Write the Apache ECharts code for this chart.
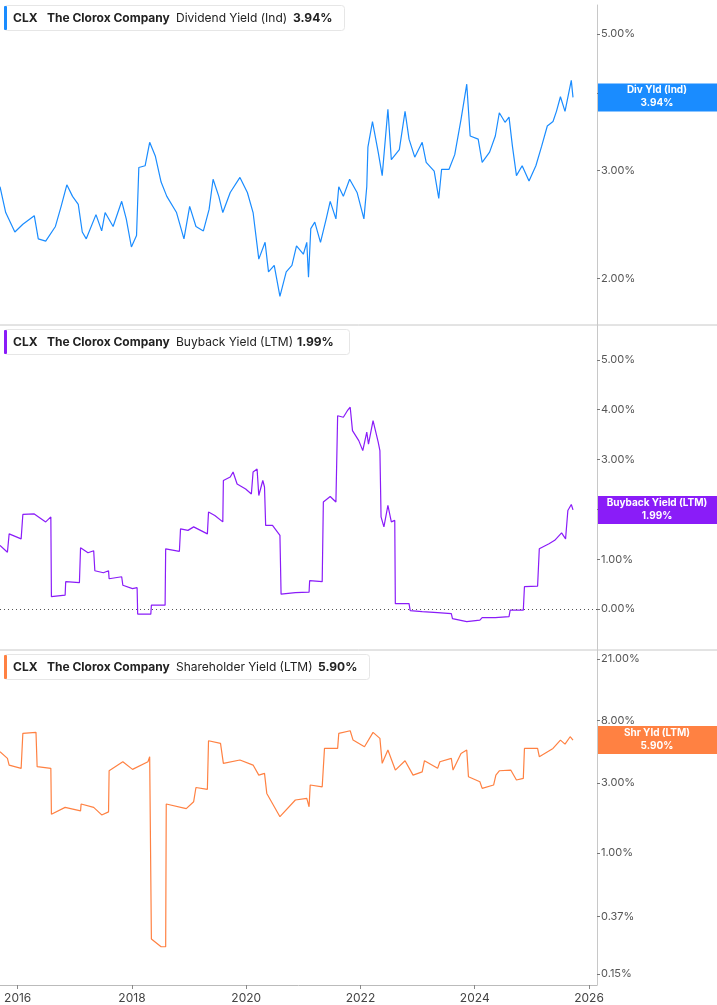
<!DOCTYPE html>
<html>
<head>
<meta charset="utf-8">
<script src="https://cdn.jsdelivr.net/npm/echarts@6/dist/echarts.min.js"></script>
<style>
  html, body { margin: 0; padding: 0; background: #fff; }
  #chart { width: 717px; height: 1005px; }
</style>
</head>
<body>
<div id="chart"></div>
<script>
// dividend yield (Ind), %
const divYears = [2015.69,2015.79,2015.95,2016.09,2016.29,2016.36,2016.49,2016.66,2016.76,2016.86,2016.96,2017.06,2017.13,2017.20,2017.37,2017.47,2017.53,2017.67,2017.82,2017.90,2017.99,2018.08,2018.12,2018.23,2018.31,2018.41,2018.51,2018.61,2018.78,2018.91,2019.01,2019.12,2019.25,2019.35,2019.42,2019.52,2019.59,2019.72,2019.89,2020.02,2020.12,2020.22,2020.33,2020.39,2020.49,2020.59,2020.70,2020.80,2020.88,2021.00,2021.06,2021.09,2021.13,2021.20,2021.30,2021.40,2021.47,2021.57,2021.62,2021.70,2021.81,2021.94,2022.06,2022.11,2022.13,2022.21,2022.31,2022.38,2022.48,2022.54,2022.68,2022.78,2022.85,2022.95,2023.08,2023.15,2023.29,2023.37,2023.42,2023.55,2023.65,2023.76,2023.86,2023.92,2024.06,2024.13,2024.26,2024.36,2024.43,2024.53,2024.60,2024.66,2024.73,2024.83,2024.95,2025.07,2025.17,2025.27,2025.37,2025.43,2025.50,2025.58,2025.69,2025.72];
const divValues = [2.82,2.56,2.38,2.45,2.53,2.32,2.30,2.43,2.62,2.84,2.72,2.64,2.38,2.32,2.54,2.39,2.56,2.43,2.67,2.50,2.25,2.35,3.03,3.05,3.33,3.16,2.87,2.72,2.56,2.32,2.62,2.43,2.39,2.59,2.90,2.72,2.56,2.76,2.92,2.76,2.56,2.15,2.29,2.05,2.10,1.87,2.05,2.10,2.26,2.19,2.29,2.01,2.41,2.47,2.29,2.50,2.67,2.50,2.82,2.72,2.90,2.76,2.50,2.82,3.27,3.60,3.21,2.94,3.77,3.12,3.24,3.74,3.37,3.15,3.33,3.09,2.99,2.70,3.01,3.01,3.18,3.63,4.14,3.41,3.37,3.09,3.21,3.41,3.72,3.59,3.66,3.28,2.94,3.05,2.88,3.05,3.28,3.54,3.60,3.74,3.95,3.74,4.20,3.94];

// buyback yield (LTM), %
const bbYears = [2015.69,2015.82,2015.85,2016.06,2016.09,2016.29,2016.49,2016.58,2016.59,2016.83,2016.84,2017.08,2017.10,2017.23,2017.33,2017.35,2017.50,2017.59,2017.60,2017.82,2017.84,2018.01,2018.09,2018.10,2018.33,2018.34,2018.58,2018.59,2018.83,2018.85,2018.98,2019.08,2019.32,2019.34,2019.45,2019.59,2019.60,2019.72,2019.77,2019.84,2019.99,2020.09,2020.12,2020.19,2020.22,2020.29,2020.32,2020.34,2020.46,2020.59,2020.61,2020.86,2021.10,2021.11,2021.33,2021.35,2021.47,2021.57,2021.60,2021.70,2021.77,2021.82,2021.86,2021.97,2022.04,2022.11,2022.14,2022.22,2022.31,2022.34,2022.36,2022.41,2022.48,2022.54,2022.60,2022.61,2022.85,2022.87,2023.08,2023.35,2023.59,2023.61,2023.86,2024.09,2024.13,2024.36,2024.60,2024.62,2024.85,2024.87,2025.10,2025.13,2025.30,2025.40,2025.52,2025.59,2025.63,2025.69,2025.72];
const bbValues = [1.28,1.14,1.51,1.41,1.90,1.91,1.75,1.85,0.25,0.28,0.55,0.53,1.23,1.13,1.17,0.77,0.73,0.77,0.61,0.65,0.48,0.41,0.43,-0.10,-0.10,0.08,0.08,1.21,1.16,1.61,1.58,1.65,1.51,1.95,1.88,1.75,2.58,2.65,2.75,2.51,2.41,2.31,2.75,2.81,2.28,2.58,2.45,1.68,1.68,1.48,0.30,0.33,0.34,0.57,0.55,2.15,2.26,2.15,3.88,3.85,3.98,4.05,3.58,3.38,3.18,3.55,3.31,3.78,3.35,3.18,1.85,1.65,2.08,1.75,1.78,0.11,0.11,-0.03,-0.05,-0.07,-0.09,-0.19,-0.25,-0.22,-0.17,-0.17,-0.15,-0.02,-0.02,0.45,0.46,1.21,1.31,1.38,1.53,1.41,1.98,2.10,1.99];

// shareholder yield (LTM), %
const shYears = [2015.69,2015.82,2015.85,2016.06,2016.09,2016.32,2016.34,2016.58,2016.59,2016.83,2017.10,2017.11,2017.33,2017.47,2017.59,2017.60,2017.84,2018.01,2018.28,2018.31,2018.34,2018.51,2018.59,2018.60,2018.95,2019.08,2019.12,2019.32,2019.34,2019.55,2019.60,2019.89,2020.12,2020.22,2020.32,2020.36,2020.59,2020.86,2021.06,2021.10,2021.12,2021.33,2021.37,2021.60,2021.62,2021.82,2021.87,2022.07,2022.22,2022.34,2022.38,2022.48,2022.61,2022.78,2022.92,2023.08,2023.12,2023.35,2023.39,2023.59,2023.62,2023.76,2023.86,2023.89,2024.09,2024.13,2024.33,2024.37,2024.43,2024.63,2024.73,2024.85,2024.87,2025.10,2025.13,2025.37,2025.50,2025.58,2025.67,2025.72];
const shValues = [4.90,4.42,3.98,3.78,6.55,6.65,3.88,3.78,1.84,2.05,1.94,2.16,2.05,1.82,1.91,3.64,4.19,3.72,4.19,4.54,0.26,0.23,0.23,2.16,2.01,2.24,2.80,2.72,5.83,5.59,4.09,4.31,3.98,3.40,3.49,2.55,1.77,2.30,2.36,2.07,2.91,2.83,5.17,5.17,6.55,6.82,5.89,5.31,6.65,6.05,4.09,5.04,3.68,4.26,3.40,3.58,4.26,3.78,4.19,4.42,3.68,4.78,5.04,3.31,3.06,2.76,2.91,3.40,3.64,3.68,3.15,3.23,5.17,5.17,4.54,5.17,5.89,5.53,6.21,5.89];

const divTicks = [2, 3, 4, 5];
const bbTicks = [0, 1, 2, 3, 4, 5];
const shTicks = [0.15, 0.37, 1, 3, 8, 21];
const yearTicks = [2016, 2018, 2020, 2022, 2024, 2026];

const titles = [
  ['CLX', 'The Clorox Company', 'Dividend Yield (Ind)', '3.94%'],
  ['CLX', 'The Clorox Company', 'Buyback Yield (LTM)', '1.99%'],
  ['CLX', 'The Clorox Company', 'Shareholder Yield (LTM)', '5.90%']
];
const tags = [['Div Yld (Ind)', '3.94%'], ['Buyback Yield (LTM)', '1.99%'], ['Shr Yld (LTM)', '5.90%']];
const colors = ['#1a8cff', '#8a1cf8', '#ff8142'];

const ln = Math.log;
const FONT = 'Inter, "Noto Sans", sans-serif';

const myChart = echarts.init(document.getElementById('chart'), null, { renderer: 'canvas' });

const grids = [
  { left: 0, right: 120, top: 5, height: 320 },
  { left: 0, right: 120, top: 325, height: 325 },
  { left: 0, right: 120, top: 650, height: 335 }
];

function xAxis(i) {
  return {
    type: 'value', gridIndex: i, min: 2015.69, max: 2026.14,
    splitLine: { show: false },
    axisLine: { show: i === 2, onZero: false, lineStyle: { color: '#bbb' } },
    axisTick: { show: i === 2, customValues: yearTicks, length: 4, lineStyle: { color: '#888' } },
    axisLabel: {
      show: i === 2, customValues: yearTicks, color: '#444', fontSize: 12, fontFamily: FONT, margin: 7,
      formatter: v => String(Math.round(v))
    }
  };
}

function yAxis(i, min, max, ticks, toAxis, fromAxis) {
  return {
    type: 'value', gridIndex: i, position: 'right', min: min, max: max, scale: true,
    splitLine: { show: false },
    axisLine: { show: true, lineStyle: { color: '#c8c8c8' } },
    axisTick: { show: true, inside: false, length: 3, customValues: ticks.map(toAxis), lineStyle: { color: '#777' } },
    axisLabel: {
      customValues: ticks.map(toAxis), color: '#555', fontSize: 11, fontFamily: FONT, margin: 4,
      formatter: v => fromAxis(v).toFixed(2) + '%'
    }
  };
}

const shLabels = {};
shTicks.forEach(t => { shLabels[ln(t).toFixed(4)] = t.toFixed(2) + '%'; });

const option = {
  animation: false,
  backgroundColor: '#fff',
  grid: grids,
  xAxis: [xAxis(0), xAxis(1), xAxis(2)],
  yAxis: [
    yAxis(0, ln(1.68), ln(5.57), divTicks, ln, Math.exp),
    yAxis(1, -0.82, 5.70, bbTicks, v => v, v => v),
    yAxis(2, -2.07, 3.187, shTicks, ln, Math.exp)
  ],
  series: [
    {
      type: 'line', xAxisIndex: 0, yAxisIndex: 0, symbol: 'none',
      lineStyle: { color: colors[0], width: 1.2 },
      data: divYears.map((x, k) => [x, ln(divValues[k])])
    },
    {
      type: 'line', xAxisIndex: 1, yAxisIndex: 1, symbol: 'none',
      lineStyle: { color: colors[1], width: 1.2 },
      data: bbYears.map((x, k) => [x, bbValues[k]]),
      markLine: {
        symbol: 'none', silent: true, label: { show: false },
        lineStyle: { color: '#555', type: [1, 3], width: 1 },
        data: [{ yAxis: 0 }]
      }
    },
    {
      type: 'line', xAxisIndex: 2, yAxisIndex: 2, symbol: 'none',
      lineStyle: { color: colors[2], width: 1.2 },
      data: shYears.map((x, k) => [x, ln(shValues[k])])
    }
  ]
};
option.yAxis[2].axisLabel.formatter = v => shLabels[v.toFixed(4)] || (Math.exp(v).toFixed(2) + '%');

myChart.setOption(option);

// header boxes, panel separators and last-value tags
const headerTop = [5, 329, 654];
const lastVals = [ln(divValues[divValues.length - 1]), bbValues[bbValues.length - 1], ln(shValues[shValues.length - 1])];
const graphics = [];
[325, 650].forEach(y => {
  graphics.push({ type: 'line', shape: { x1: 0, y1: y, x2: 717, y2: y }, style: { stroke: '#c8c8c8', lineWidth: 1 }, z: 10 });
});
titles.forEach((t, i) => {
  const widths = [340, 345, 365];
  const y = headerTop[i];
  graphics.push({ type: 'rect', shape: { x: 4.5, y: y + 0.5, width: widths[i], height: 25, r: 3 }, style: { fill: '#fff', stroke: '#e6e6e6', lineWidth: 1 }, z: 20 });
  graphics.push({ type: 'rect', shape: { x: 4, y: y + 1, width: 3, height: 24, r: 1 }, style: { fill: colors[i] }, z: 21 });
  const parts = [[t[0], 13, 'bold'], [t[1], 47, 'bold'], [t[2], [176, 176, 176][i], 'normal'], [t[3], [293, 297, 318][i], 'bold']];
  parts.forEach(p => {
    graphics.push({
      type: 'text', x: p[1], y: y + 13, z: 22,
      style: { text: p[0], fill: '#222', font: p[2] + ' 12px ' + FONT, verticalAlign: 'middle' }
    });
  });
  const py = myChart.convertToPixel({ yAxisIndex: i }, lastVals[i]);
  graphics.push({ type: 'rect', shape: { x: 598, y: py - 14, width: 119, height: 28 }, style: { fill: colors[i] }, z: 30 });
  graphics.push({
    type: 'text', x: 657, y: py - 7, z: 31,
    style: { text: tags[i][0], fill: '#fff', font: 'bold 10px ' + FONT, align: 'center', verticalAlign: 'middle' }
  });
  graphics.push({
    type: 'text', x: 657, y: py + 6, z: 31,
    style: { text: tags[i][1], fill: '#fff', font: 'bold 10px ' + FONT, align: 'center', verticalAlign: 'middle' }
  });
});
myChart.setOption({ graphic: graphics });
</script>
</body>
</html>
